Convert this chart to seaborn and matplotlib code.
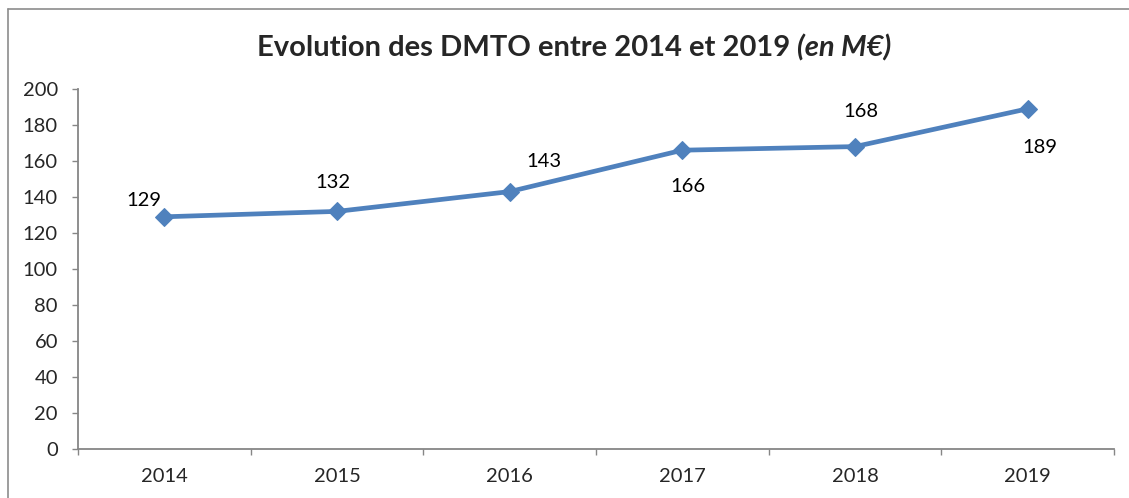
import numpy as np
import pandas as pd
import matplotlib
matplotlib.use("Agg")
import matplotlib.pyplot as plt
from matplotlib.lines import Line2D
import seaborn as sns

# ── Data ──────────────────────────────────────────────────────────────────────
years = ["2014", "2015", "2016", "2017", "2018", "2019"]
dmto = [129, 132, 143, 166, 168, 189]
# label offsets (points) relative to each marker
label_dx = [-15, -3, 25, 4, 4, 9]
label_dy = [12, 21, 22, -26, 25, -28]

# ── Style ─────────────────────────────────────────────────────────────────────
sns.set_style("white")
plt.rcParams["font.family"] = ["Lato", "DejaVu Sans"]

BLUE = "#4F81BD"
GREY = "#868686"
FS = 14.5

df = pd.DataFrame({"year": years, "dmto": dmto})

fig = plt.figure(figsize=(11.29, 4.98), dpi=100)
ax = fig.add_axes([0.0691, 0.0984, 0.9176, 0.7229])

sns.lineplot(data=df, x="year", y="dmto", ax=ax, color=BLUE, linewidth=3.4,
             marker="D", markersize=9.5, markeredgecolor=BLUE, sort=False)

ax.set_ylim(0, 200)
ax.set_yticks(np.arange(0, 201, 20))
ax.set_xlim(-0.5, len(years) - 0.5)
ax.set_xticks(np.arange(-0.5, len(years), 1.0))
ax.set_xticklabels([])
ax.set_xticks(np.arange(len(years)), minor=True)
ax.set_xticklabels(years, minor=True)
ax.set_xlabel("")
ax.set_ylabel("")

for side in ["top", "right"]:
    ax.spines[side].set_visible(False)
for side in ["left", "bottom"]:
    ax.spines[side].set_color(GREY)
    ax.spines[side].set_linewidth(1.3)

ax.tick_params(axis="y", which="major", direction="out", length=4.5, width=1,
               color=GREY, labelsize=FS, pad=10, left=True)
ax.tick_params(axis="x", which="major", direction="out", length=4.5, width=1,
               color=GREY, bottom=True)
ax.tick_params(axis="x", which="minor", length=0, labelsize=FS, pad=14)

for i, v in enumerate(dmto):
    ax.annotate(str(v), (i, v), xytext=(label_dx[i], label_dy[i]),
                textcoords="offset points", ha="center", va="center",
                fontsize=FS, color="black")

# ── Title (bold + bold italic) ────────────────────────────────────────────────
t1 = fig.text(0.5, 1 - 48 / 498, "Evolution des DMTO entre 2014 et 2019 ",
              fontsize=21, fontweight="bold", ha="left", va="center")
t2 = fig.text(0.5, 1 - 48 / 498, "(en M€)", fontsize=21, fontweight="bold",
              fontstyle="italic", ha="left", va="center")
fig.canvas.draw()
r = fig.canvas.get_renderer()
w1 = t1.get_window_extent(r).width / fig.bbox.width
w2 = t2.get_window_extent(r).width / fig.bbox.width
x0 = 574 / 1129 - (w1 + w2) / 2
t1.set_x(x0)
t2.set_x(x0 + w1)

# ── Outer chart frame (top and left edges visible) ────────────────────────────
fig.add_artist(Line2D([8 / 1129, 8 / 1129], [0, 1 - 9.5 / 498],
                      transform=fig.transFigure, color="#8c8c8c", linewidth=1.2))
fig.add_artist(Line2D([8 / 1129, 1], [1 - 9.5 / 498, 1 - 9.5 / 498],
                      transform=fig.transFigure, color="#8c8c8c", linewidth=1.2))

plt.savefig("out.png", dpi=100)
